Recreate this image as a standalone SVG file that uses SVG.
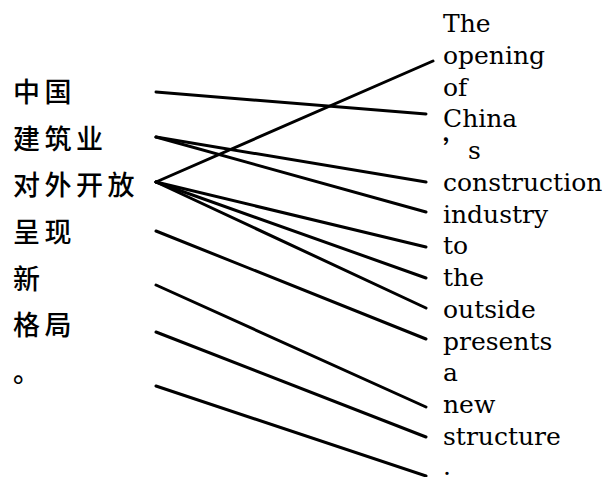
<svg xmlns="http://www.w3.org/2000/svg" width="606" height="477" viewBox="0 0 606 477">
<style>
.zh{font-family:"Noto Sans CJK SC",sans-serif;font-size:27px;letter-spacing:4.5px;fill:#000;font-weight:500}
.en{font-family:"DejaVu Serif",serif;font-size:25px;fill:#000}
.ap{font-family:"Noto Sans CJK SC",sans-serif;font-weight:700}
.ln{stroke:#000;stroke-width:3;fill:none;stroke-linecap:round}
</style>
<rect width="606" height="477" fill="#fff"/>
<g id="left">
<text id="s0" class="zh" x="13" y="102">中国</text>
<text id="s1" class="zh" x="13" y="149">建筑业</text>
<text id="s2" class="zh" x="13" y="195">对外开放</text>
<text id="s3" class="zh" x="13" y="242">呈现</text>
<text id="s4" class="zh" x="13" y="289">新</text>
<text id="s5" class="zh" x="13" y="335">格局</text>
<text id="s6" class="zh" x="13" y="382">。</text>
</g>
<g id="right">
<text id="t0" class="en" x="443" y="32">The</text>
<text id="t1" class="en" x="443" y="64">opening</text>
<text id="t2" class="en" x="443" y="96">of</text>
<text id="t3" class="en" x="443" y="127">China</text>
<text id="t4" class="en" x="443" y="159"><tspan class="ap">’</tspan>s</text>
<text id="t5" class="en" x="443" y="191">construction</text>
<text id="t6" class="en" x="443" y="223">industry</text>
<text id="t7" class="en" x="443" y="254">to</text>
<text id="t8" class="en" x="443" y="286">the</text>
<text id="t9" class="en" x="443" y="318">outside</text>
<text id="t10" class="en" x="443" y="350">presents</text>
<text id="t11" class="en" x="443" y="381">a</text>
<text id="t12" class="en" x="443" y="413">new</text>
<text id="t13" class="en" x="443" y="445">structure</text>
<text id="t14" class="en" x="443" y="475">.</text>
</g>
<g id="connectors" class="ln">
<line x1="156" y1="92" x2="426" y2="114"/>
<line x1="156" y1="137" x2="426" y2="182"/>
<line x1="156" y1="137" x2="426" y2="212"/>
<line x1="156" y1="182" x2="433" y2="61"/>
<line x1="156" y1="182" x2="426" y2="247"/>
<line x1="156" y1="182" x2="426" y2="278"/>
<line x1="156" y1="182" x2="426" y2="308"/>
<line x1="156" y1="231" x2="426" y2="339"/>
<line x1="156" y1="285" x2="426" y2="407"/>
<line x1="156" y1="332" x2="426" y2="437"/>
<line x1="156" y1="386" x2="426" y2="476"/>
</g>
</svg>
